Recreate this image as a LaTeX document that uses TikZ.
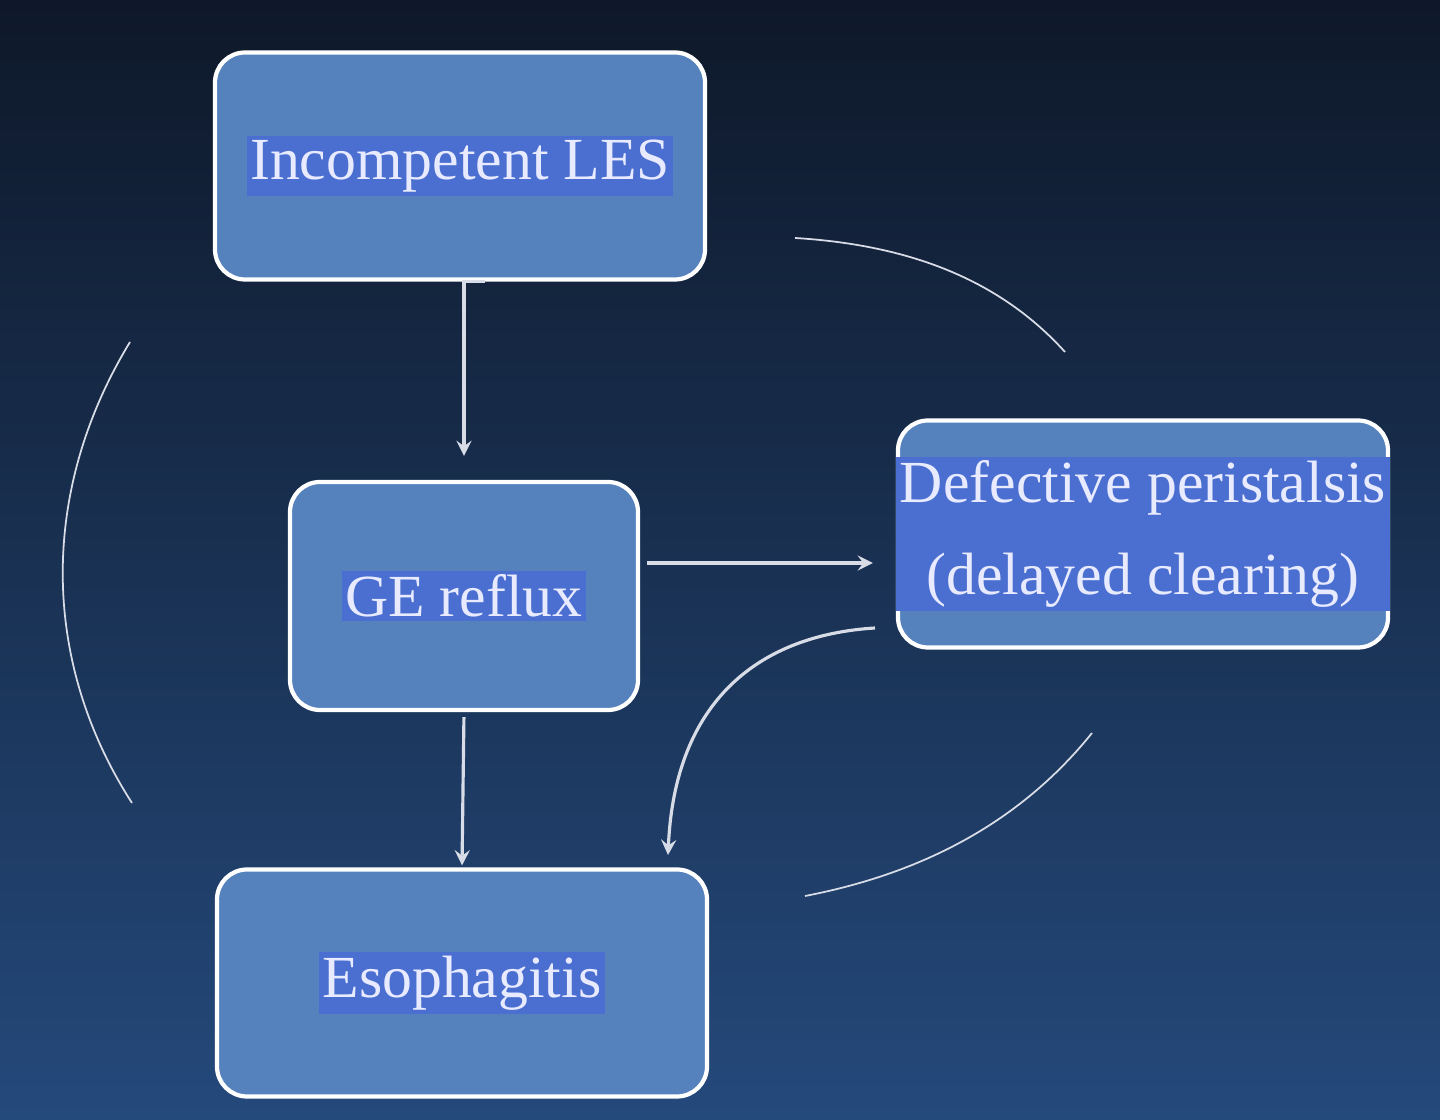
\documentclass[tikz,border=0pt]{standalone}
\usepackage{fontspec}
\setmainfont{Liberation Serif}
\usetikzlibrary{calc}
\definecolor{boxfill}{HTML}{5582BD}
\definecolor{hilite}{HTML}{4A6FD0}
\definecolor{txtcol}{HTML}{E8EAFF}
\definecolor{bgtop}{HTML}{0E1829}
\definecolor{bgbot}{HTML}{24497B}
\definecolor{linecol}{HTML}{D8DCE6}

\begin{document}
\begin{tikzpicture}[>=stealth,
  box/.style={draw=white, line width=1.2pt, fill=boxfill, rounded corners=0.3cm},
  label/.style={fill=hilite, text=txtcol, inner sep=1pt, font=\fontsize{17}{26}\selectfont, align=center},
  link/.style={->, draw=linecol, line width=0.9pt},
  loop/.style={draw=linecol, line width=0.5pt}]
  % background
  \shade[top color=bgtop, bottom color=bgbot] (0, 0) rectangle (14.4, 11.2);
  \useasboundingbox (0, 0) rectangle (14.4, 11.2);
  % boxes
  \node[box, minimum width=4.9cm, minimum height=2.27cm] (les) at (4.60, 9.54) {};
  \node[box, minimum width=3.48cm, minimum height=2.28cm] (ge) at (4.64, 5.24) {};
  \node[box, minimum width=4.9cm, minimum height=2.27cm] (def) at (11.43, 5.86) {};
  \node[box, minimum width=4.9cm, minimum height=2.27cm] (eso) at (4.62, 1.37) {};
  % texts
  \node[label] (lesT) at (les) {Incompetent LES};
  \node[label] (geT) at (ge) {GE reflux};
  \node[label] (defT) at (def) {Defective peristalsis\\(delayed clearing)};
  \node[label] (esoT) at (eso) {Esophagitis};
  % arrows
  \draw[link, shorten <=0.25cm, shorten >=0.24cm] (les.south) -- (ge.south |- les.south) -- (ge.north);
  \draw[link, shorten <=0.05cm, shorten >=0.02cm] (ge.south) -- (eso.north);
  \draw[link, shorten <=0.07cm, shorten >=0.23cm] (ge.east |- 0, 5.57) -- (def.west |- 0, 5.57);
  \coordinate (c1) at (8.75, 4.92);
  \coordinate (c2) at (6.68, 2.65);
  \draw[link] (c1) .. controls (7.6, 4.85) and (6.75, 4.2) .. (c2);
  % loop arcs
  \draw[loop] (1.30, 7.78) .. controls (0.40, 6.30) and (0.40, 4.60) .. (1.32, 3.17);
  \draw[loop] (7.95, 8.82) .. controls (9.10, 8.75) and (10.00, 8.40) .. (10.65, 7.68);
  \draw[loop] (10.92, 3.87) .. controls (10.30, 3.10) and (9.40, 2.50) .. (8.05, 2.24);
\end{tikzpicture}
\end{document}
